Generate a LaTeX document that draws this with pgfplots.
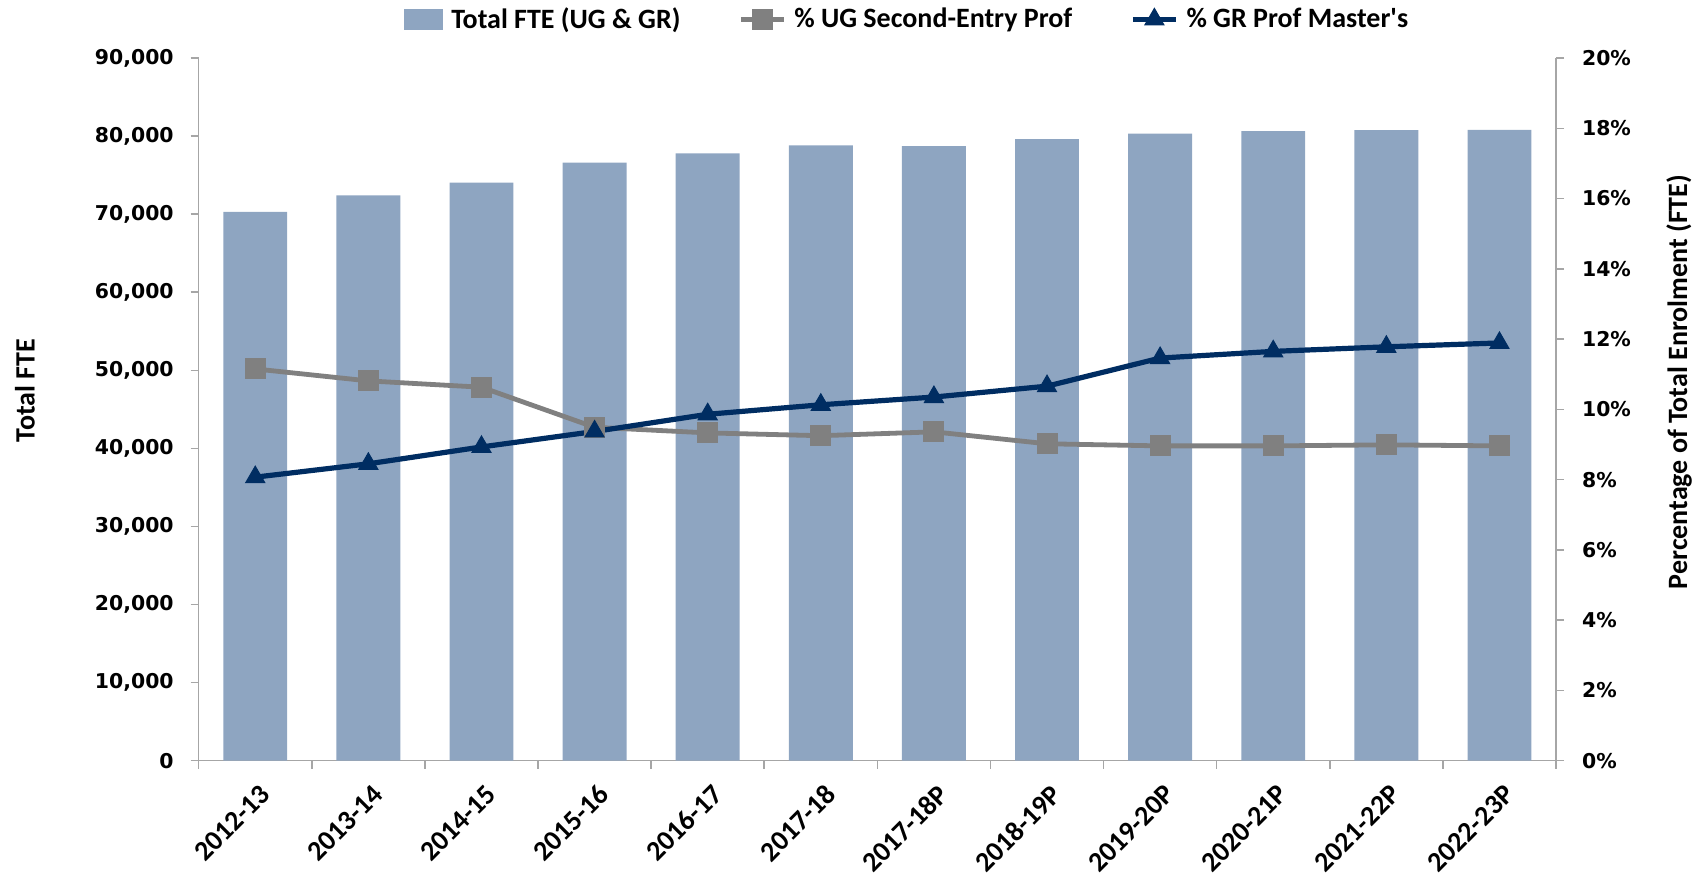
\documentclass[border=0pt]{standalone}
\usepackage{fontspec}
\setmainfont{Carlito}
\newfontfamily\dvs{DejaVu Sans}
\usepackage{pgfplots}
\pgfplotsset{compat=1.18}
\definecolor{barblue}{HTML}{8EA5C1}
\definecolor{ugray}{HTML}{808080}
\definecolor{navy}{HTML}{002D62}
\definecolor{axgray}{HTML}{A6A6A6}
\pgfplotsset{mylineleg/.style={legend image code/.code={\draw[mark repeat=2,mark phase=2,##1] plot coordinates {(0pt,0pt) (10.75pt,0pt) (21.5pt,0pt)};}}}
\begin{document}
\begin{tikzpicture}
\useasboundingbox (-99.35pt,-59.15pt) rectangle (751.15pt,380.35pt);
\begin{axis}[
  scale only axis, width=678.65pt, height=351.35pt,
  at={(0,0)}, anchor=south west,
  xmin=-0.5, xmax=11.5, ymin=0, ymax=90000,
  axis x line*=bottom, axis y line*=left,
  axis line style={axgray, line width=0.75pt, -},
  tick style={axgray, line width=0.75pt},
  tick align=outside,
  major tick length=4pt, minor tick length=4pt,
  xtick={0,...,11},
  xticklabels={2012-13,2013-14,2014-15,2015-16,2016-17,2017-18,2017-18P,2018-19P,2019-20P,2020-21P,2021-22P,2022-23P},
  major x tick style={draw=none},
  minor xtick={-0.5,0.5,...,11.5},
  xticklabel style={font=\bfseries\fontsize{14}{16}\selectfont, anchor=east, xshift=5pt, yshift=-10.5pt, rotate=45, inner sep=0pt},
  ytick={0,10000,...,90000},
  scaled y ticks=false,
  /pgf/number format/.cd, fixed, precision=0, 1000 sep={,}, assume math mode=true, /pgfplots/.cd,
  yticklabel style={font=\dvs\bfseries\fontsize{10.2}{12}\selectfont, xshift=-5pt},
  ylabel={Total FTE},
  ylabel style={at={(axis description cs:-0.128,0.527)}, anchor=center, rotate=0, font=\bfseries\fontsize{14}{16}\selectfont},
]
\addplot[ybar, bar width=0.565, fill=barblue, draw=none] coordinates {
(0,70300) (1,72400) (2,74050) (3,76600) (4,77800) (5,78800) (6,78700) (7,79600) (8,80300) (9,80650) (10,80750) (11,80800)};
\end{axis}
\begin{axis}[
  scale only axis, width=678.65pt, height=351.35pt,
  at={(0,0)}, anchor=south west,
  xmin=-0.5, xmax=11.5, ymin=0, ymax=20,
  axis x line=none, axis y line*=right,
  axis line style={axgray, line width=0.75pt, -},
  tick style={axgray, line width=0.75pt},
  tick align=outside,
  major tick length=4pt,
  ytick={0,2,...,20},
  yticklabel={\pgfmathprintnumber[assume math mode=true]{\tick}\%},
  yticklabel style={font=\dvs\bfseries\fontsize{10.2}{12}\selectfont, xshift=5.5pt},
  ylabel={Percentage of Total Enrolment (FTE)},
  ylabel style={at={(axis description cs:1.0906,0.539)}, anchor=center, rotate=0, font=\bfseries\fontsize{14}{16}\selectfont},
  legend columns=3,
  legend style={at={(axis description cs:0.1513,1.055)}, anchor=west, draw=none, fill=none, inner sep=0pt,
    font=\bfseries\fontsize{14}{16}\selectfont,
    /tikz/every odd column/.style={column sep=2pt},
    /tikz/every even column/.style={column sep=27pt},
    cells={anchor=west}},
]
\addlegendimage{legend image code/.code={\fill[barblue] (0pt,-5pt) rectangle (19pt,5pt);}}
\addlegendentry{Total FTE (UG \& GR)}
\addplot[color=ugray, line width=2.4pt, mark=square*, mark size=5pt, mark options={fill=ugray, draw=ugray, line width=0.5pt}, mylineleg] coordinates {
(0,11.15) (1,10.81) (2,10.63) (3,9.49) (4,9.33) (5,9.25) (6,9.36) (7,9.02) (8,8.96) (9,8.96) (10,8.99) (11,8.96)};
\addlegendentry{\% UG Second-Entry Prof}
\addplot[color=navy, line width=2.6pt, mark=triangle*, mark size=5.5pt, mark options={fill=navy, draw=navy, line width=0.5pt}, mylineleg] coordinates {
(0,8.07) (1,8.45) (2,8.93) (3,9.37) (4,9.86) (5,10.13) (6,10.35) (7,10.66) (8,11.46) (9,11.65) (10,11.78) (11,11.89)};
\addlegendentry{\% GR Prof Master\textquotesingle s}
\end{axis}
\end{tikzpicture}
\end{document}
